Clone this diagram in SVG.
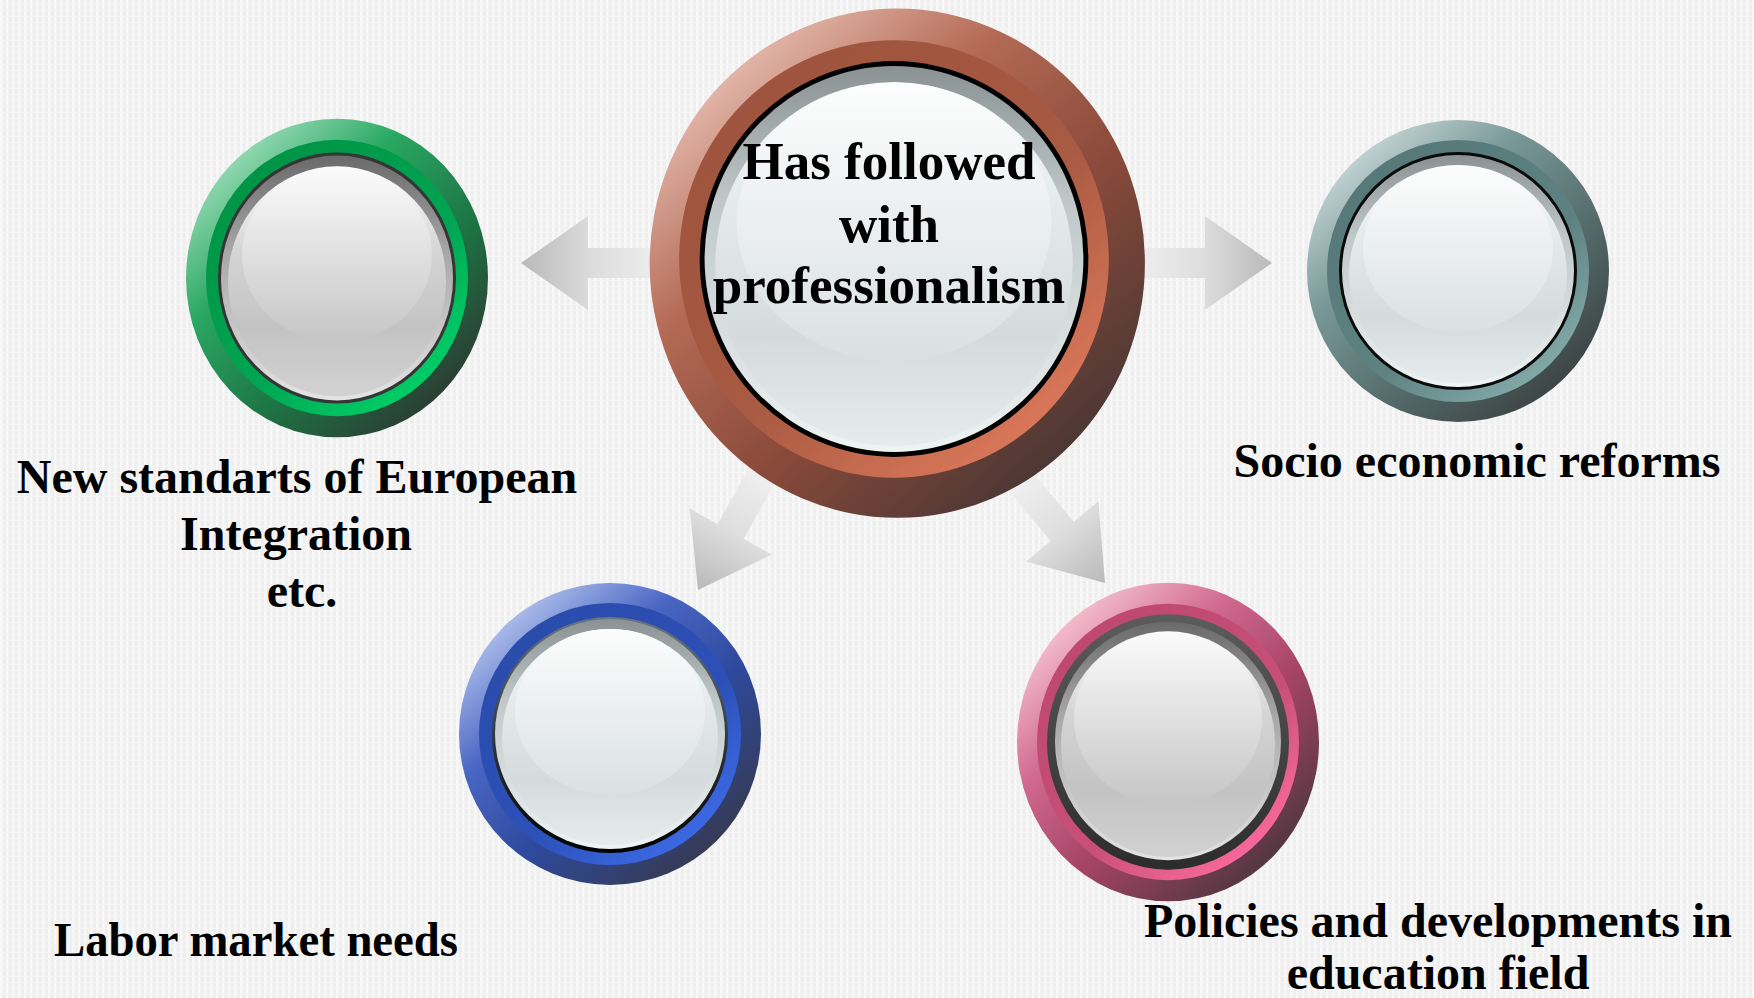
<svg xmlns="http://www.w3.org/2000/svg" width="1754" height="998" viewBox="0 0 1754 998">
<defs>
<pattern id="bgp" width="6" height="6" patternUnits="userSpaceOnUse">
<rect width="6" height="6" fill="#efefef"/>
<rect x="0" y="0" width="2.5" height="6" fill="#f8f8f8"/>
<rect x="0" y="4" width="6" height="1" fill="#f5f5f5"/>
</pattern>
<linearGradient id="arrowG" x1="0" y1="0" x2="1" y2="0">
<stop offset="0" stop-color="#f0f0f0"/>
<stop offset="0.5" stop-color="#dedede"/>
<stop offset="1" stop-color="#b9b9b9"/>
</linearGradient>
<linearGradient id="oBrown" x1="0.15" y1="0.1" x2="0.85" y2="0.9">
<stop offset="0" stop-color="#e6bcb0"/><stop offset="0.3" stop-color="#b46a55"/><stop offset="0.62" stop-color="#8a4a3a"/><stop offset="1" stop-color="#483634"/>
</linearGradient>
<linearGradient id="mBrown" x1="0.2" y1="0.1" x2="0.85" y2="0.9">
<stop offset="0" stop-color="#9e543e"/><stop offset="0.55" stop-color="#a85a42"/><stop offset="1" stop-color="#dc785a"/>
</linearGradient>
<linearGradient id="oGreen" x1="0.15" y1="0.1" x2="0.85" y2="0.9">
<stop offset="0" stop-color="#9adcb8"/><stop offset="0.3" stop-color="#2aa862"/><stop offset="0.65" stop-color="#1d7444"/><stop offset="1" stop-color="#2c3a33"/>
</linearGradient>
<linearGradient id="mGreen" x1="0.2" y1="0.1" x2="0.85" y2="0.9">
<stop offset="0" stop-color="#009446"/><stop offset="0.6" stop-color="#00a653"/><stop offset="1" stop-color="#00d068"/>
</linearGradient>
<linearGradient id="oTeal" x1="0.15" y1="0.1" x2="0.85" y2="0.9">
<stop offset="0" stop-color="#c6d6d6"/><stop offset="0.3" stop-color="#7a9898"/><stop offset="0.65" stop-color="#556c6c"/><stop offset="1" stop-color="#3c4242"/>
</linearGradient>
<linearGradient id="mTeal" x1="0.2" y1="0.1" x2="0.85" y2="0.9">
<stop offset="0" stop-color="#567878"/><stop offset="0.6" stop-color="#5e8282"/><stop offset="1" stop-color="#84aaaa"/>
</linearGradient>
<linearGradient id="oBlue" x1="0.15" y1="0.1" x2="0.85" y2="0.9">
<stop offset="0" stop-color="#b2c2ec"/><stop offset="0.3" stop-color="#4a66c4"/><stop offset="0.6" stop-color="#2e4a9e"/><stop offset="1" stop-color="#363a50"/>
</linearGradient>
<linearGradient id="mBlue" x1="0.2" y1="0.1" x2="0.85" y2="0.9">
<stop offset="0" stop-color="#2a4cac"/><stop offset="0.6" stop-color="#2d50b8"/><stop offset="1" stop-color="#3c6ae6"/>
</linearGradient>
<linearGradient id="oPink" x1="0.15" y1="0.1" x2="0.85" y2="0.9">
<stop offset="0" stop-color="#f6c2d2"/><stop offset="0.3" stop-color="#d06a8e"/><stop offset="0.6" stop-color="#a64466"/><stop offset="1" stop-color="#4e363e"/>
</linearGradient>
<linearGradient id="mPink" x1="0.2" y1="0.1" x2="0.85" y2="0.9">
<stop offset="0" stop-color="#be4870"/><stop offset="0.6" stop-color="#c85078"/><stop offset="1" stop-color="#fa6a9c"/>
</linearGradient>
<linearGradient id="rimL" x1="0" y1="0" x2="0" y2="1">
<stop offset="0" stop-color="#8a9294"/><stop offset="0.35" stop-color="#bfc7c8"/><stop offset="1" stop-color="#eef3f3"/>
</linearGradient>
<linearGradient id="faceL" x1="0" y1="0" x2="0" y2="1">
<stop offset="0" stop-color="#ffffff"/><stop offset="0.3" stop-color="#e6ebeb"/><stop offset="0.7" stop-color="#d5dbdc"/><stop offset="1" stop-color="#e6ecec"/>
</linearGradient>
<linearGradient id="hlL" x1="0" y1="0" x2="0" y2="1">
<stop offset="0" stop-color="#fcfdfd"/><stop offset="1" stop-color="#dae0e1"/>
</linearGradient>
<linearGradient id="rimG" x1="0" y1="0" x2="0" y2="1">
<stop offset="0" stop-color="#6a6a6a"/><stop offset="0.4" stop-color="#a8a8a8"/><stop offset="1" stop-color="#e4e4e4"/>
</linearGradient>
<linearGradient id="faceG" x1="0" y1="0" x2="0" y2="1">
<stop offset="0" stop-color="#ffffff"/><stop offset="0.35" stop-color="#d6d6d6"/><stop offset="0.7" stop-color="#c3c3c3"/><stop offset="1" stop-color="#d2d2d2"/>
</linearGradient>
<linearGradient id="hlG" x1="0" y1="0" x2="0" y2="1">
<stop offset="0" stop-color="#fbfbfb"/><stop offset="1" stop-color="#c5c5c5"/>
</linearGradient>
<linearGradient id="ringBlue" x1="0" y1="0" x2="0" y2="1">
<stop offset="0" stop-color="#6a7480"/><stop offset="1" stop-color="#000000"/>
</linearGradient>
<linearGradient id="ringPink" x1="0" y1="0" x2="0" y2="1">
<stop offset="0" stop-color="#5c5c5c"/><stop offset="1" stop-color="#2c2c2c"/>
</linearGradient>
</defs>
<style>
.lbl{font-family:"Liberation Serif","Times New Roman",serif;font-weight:bold;font-size:48px;fill:#000;text-anchor:middle}
.ctr{font-family:"Liberation Serif","Times New Roman",serif;font-weight:bold;font-size:53px;fill:#000;text-anchor:middle}
.arrow{fill:url(#arrowG)}
</style>
<rect width="1754" height="998" fill="url(#bgp)"/>

<g id="connectors">
<polygon class="arrow" transform="translate(521,263) rotate(180)" points="0,0 -67,-47 -67,-15 -150,-15 -150,15 -67,15 -67,47"/>
<polygon class="arrow" transform="translate(1272,263)" points="0,0 -67,-47 -67,-15 -140,-15 -140,15 -67,15 -67,47"/>
<polygon class="arrow" transform="translate(698,590) rotate(119.2)" points="0,0 -67,-47 -67,-15 -135,-15 -135,15 -67,15 -67,47"/>
<polygon class="arrow" transform="translate(1105,583) rotate(50.3)" points="0,0 -67,-47 -67,-15 -135,-15 -135,15 -67,15 -67,47"/>
</g>

<g id="node-green">
<g transform="translate(337,278) scale(1,1.055)">
<circle r="151" fill="url(#oGreen)"/>
<circle r="131" fill="url(#mGreen)"/>
<circle r="119" fill="#353535"/>
<circle r="116" fill="url(#rimG)"/>
<circle r="109" cy="3" fill="url(#faceG)"/>
<ellipse cy="-22" rx="95" ry="83" fill="url(#hlG)"/>
</g>
<text class="lbl" x="297" y="493">New standarts of European</text>
<text class="lbl" x="296" y="550">Integration</text>
<text class="lbl" x="302" y="607">etc.</text>
</g>

<g id="node-teal">
<g transform="translate(1458,271)">
<circle r="151" fill="url(#oTeal)"/>
<circle r="131" fill="url(#mTeal)"/>
<circle r="119" fill="#0a0a0a"/>
<circle r="116" fill="url(#rimL)"/>
<circle r="109" cy="3" fill="url(#faceL)"/>
<ellipse cy="-22" rx="95" ry="83" fill="url(#hlL)"/>
</g>
<text class="lbl" x="1477" y="477">Socio economic reforms</text>
</g>

<g id="node-blue">
<g transform="translate(610,734)">
<circle r="151" fill="url(#oBlue)"/>
<circle r="131" fill="url(#mBlue)"/>
<circle r="118" cy="1" fill="url(#ringBlue)"/>
<circle r="115" fill="url(#rimL)"/>
<circle r="108" cy="3" fill="url(#faceL)"/>
<ellipse cy="-22" rx="95" ry="83" fill="url(#hlL)"/>
</g>
<text class="lbl" x="256" y="956" textLength="404" lengthAdjust="spacingAndGlyphs">Labor market needs</text>
</g>

<g id="node-pink">
<g transform="translate(1168,742) scale(1,1.055)">
<circle r="151" fill="url(#oPink)"/>
<circle r="131" fill="url(#mPink)"/>
<circle r="121" fill="url(#ringPink)"/>
<circle r="113" cy="-1" fill="url(#rimG)"/>
<circle r="107" cy="2" fill="url(#faceG)"/>
<ellipse cy="-22" rx="94" ry="82" fill="url(#hlG)"/>
</g>
<text class="lbl" x="1438" y="937">Policies and developments in</text>
<text class="lbl" x="1438" y="989">education field</text>
</g>

<g id="node-center">
<g transform="translate(894,259) scale(1.64,1.67)">
<ellipse cx="2" cy="2.5" rx="151" ry="152.5" fill="url(#oBrown)"/>
<circle r="131" fill="url(#mBrown)"/>
<circle r="118.5" fill="#000"/>
<circle r="115.5" fill="url(#rimL)"/>
<circle r="109" cy="3" fill="url(#faceL)"/>
<ellipse cy="-22" rx="96" ry="83" fill="url(#hlL)"/>
</g>
<text class="ctr" x="889" y="179">Has followed</text>
<text class="ctr" x="889" y="242">with</text>
<text class="ctr" x="889" y="303">professionalism</text>
</g>
</svg>
